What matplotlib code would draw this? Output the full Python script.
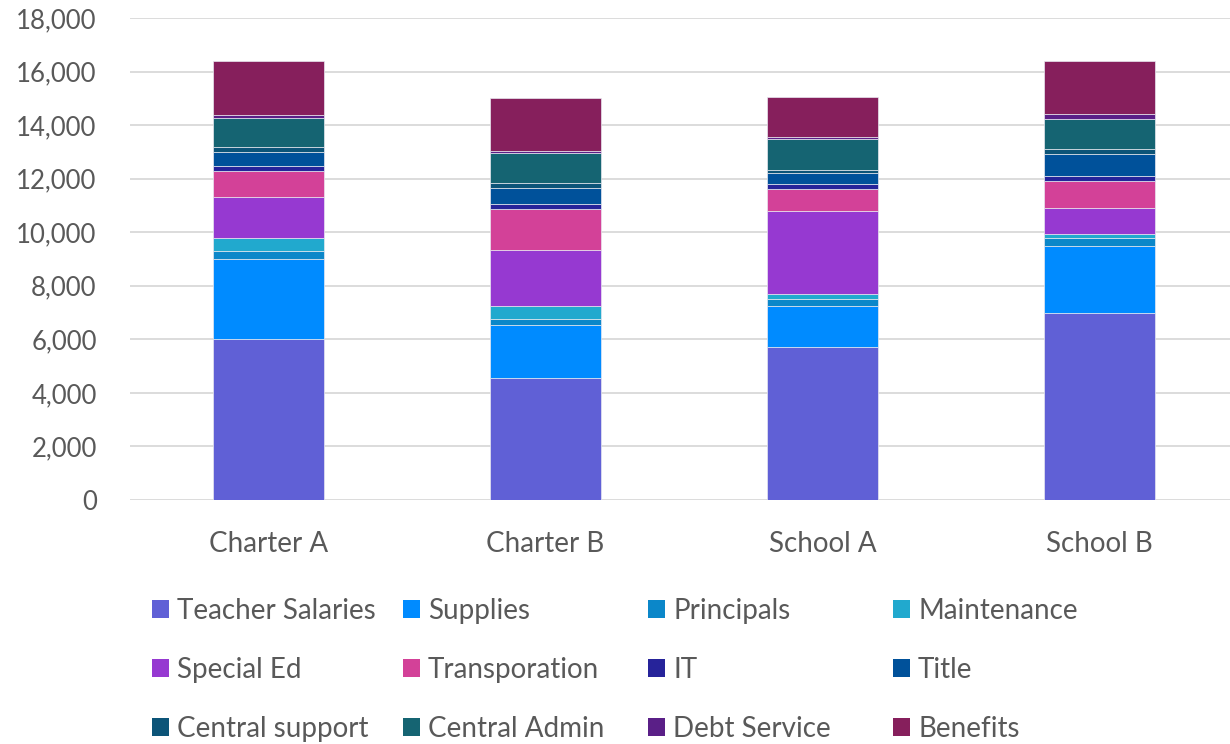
import numpy as np
import matplotlib.pyplot as plt

# school spending, stacked by category
schools = ["Charter A", "Charter B", "School A", "School B"]
categories = ["Teacher Salaries", "Supplies", "Principals", "Maintenance",
              "Special Ed", "Transporation", "IT", "Title",
              "Central support", "Central Admin", "Debt Service", "Benefits"]
teacher_salaries = [6000, 4550, 5700, 7000]
supplies = [3000, 2000, 1530, 2500]
principals = [300, 200, 290, 300]
maintenance = [500, 500, 190, 120]
special_ed = [1500, 2100, 3100, 1000]
transporation = [1000, 1500, 800, 1000]
it = [180, 200, 190, 190]
title = [500, 600, 400, 800]
central_support = [200, 200, 110, 200]
central_admin = [1100, 1100, 1180, 1100]
debt_service = [100, 80, 75, 200]
benefits = [2000, 2000, 1500, 2000]

series = [teacher_salaries, supplies, principals, maintenance,
          special_ed, transporation, it, title,
          central_support, central_admin, debt_service, benefits]
colors = ["#6060D6", "#008BFF", "#0B87C9", "#21A9CE",
          "#9639D1", "#D34198", "#26239A", "#00519A",
          "#0C5478", "#156472", "#5A1F87", "#861F5C"]

plt.rcParams['font.family'] = ['Lato', 'DejaVu Sans']
fig = plt.figure(figsize=(12.3, 7.44), dpi=100)
ax = fig.add_axes([130 / 1230, 1 - 500 / 744, 1108 / 1230, 482 / 744])

x = np.arange(len(schools))
bottom = np.zeros(len(schools))
handles = []
for vals, c, name in zip(series, colors, categories):
    h = ax.bar(x, vals, 0.4, bottom=bottom, color=c, edgecolor="#e8e8f0",
               linewidth=0.5, label=name, zorder=3)
    handles.append(h)
    bottom += np.array(vals)

ax.set_xlim(-0.5, 3.5)
ax.set_ylim(0, 18000)
ax.set_yticks(np.arange(0, 18001, 2000))
ax.yaxis.set_major_formatter(plt.FuncFormatter(lambda v, p: "{:,.0f}".format(v)))
ax.set_xticks(x)
ax.set_xticklabels(schools)
ax.grid(axis="y", color="#d9d9d9", linewidth=1.3, zorder=0)
for s in ax.spines.values():
    s.set_visible(False)
ax.tick_params(length=0, labelcolor="#595959")
ax.tick_params(axis="x", pad=22, labelsize=20)
ax.tick_params(axis="y", pad=24, labelsize=18.5)

# legend: 4 columns of 3 rows, row-major like the original
col_x = [152, 403, 648, 893]
for c in range(4):
    hs = [handles[r * 4 + c] for r in range(3)]
    leg = fig.legend(hs, [categories[r * 4 + c] for r in range(3)],
                     loc="upper left", bbox_to_anchor=(col_x[c] / 1230, 1 - 598 / 744),
                     frameon=False, fontsize=20, labelcolor="#595959",
                     handlelength=0.6, handleheight=0.6, handletextpad=0.3,
                     labelspacing=1.18, borderpad=0, borderaxespad=0)
    for p in leg.get_patches():
        p.set_edgecolor("none")

fig.savefig("out.png", dpi=100)
